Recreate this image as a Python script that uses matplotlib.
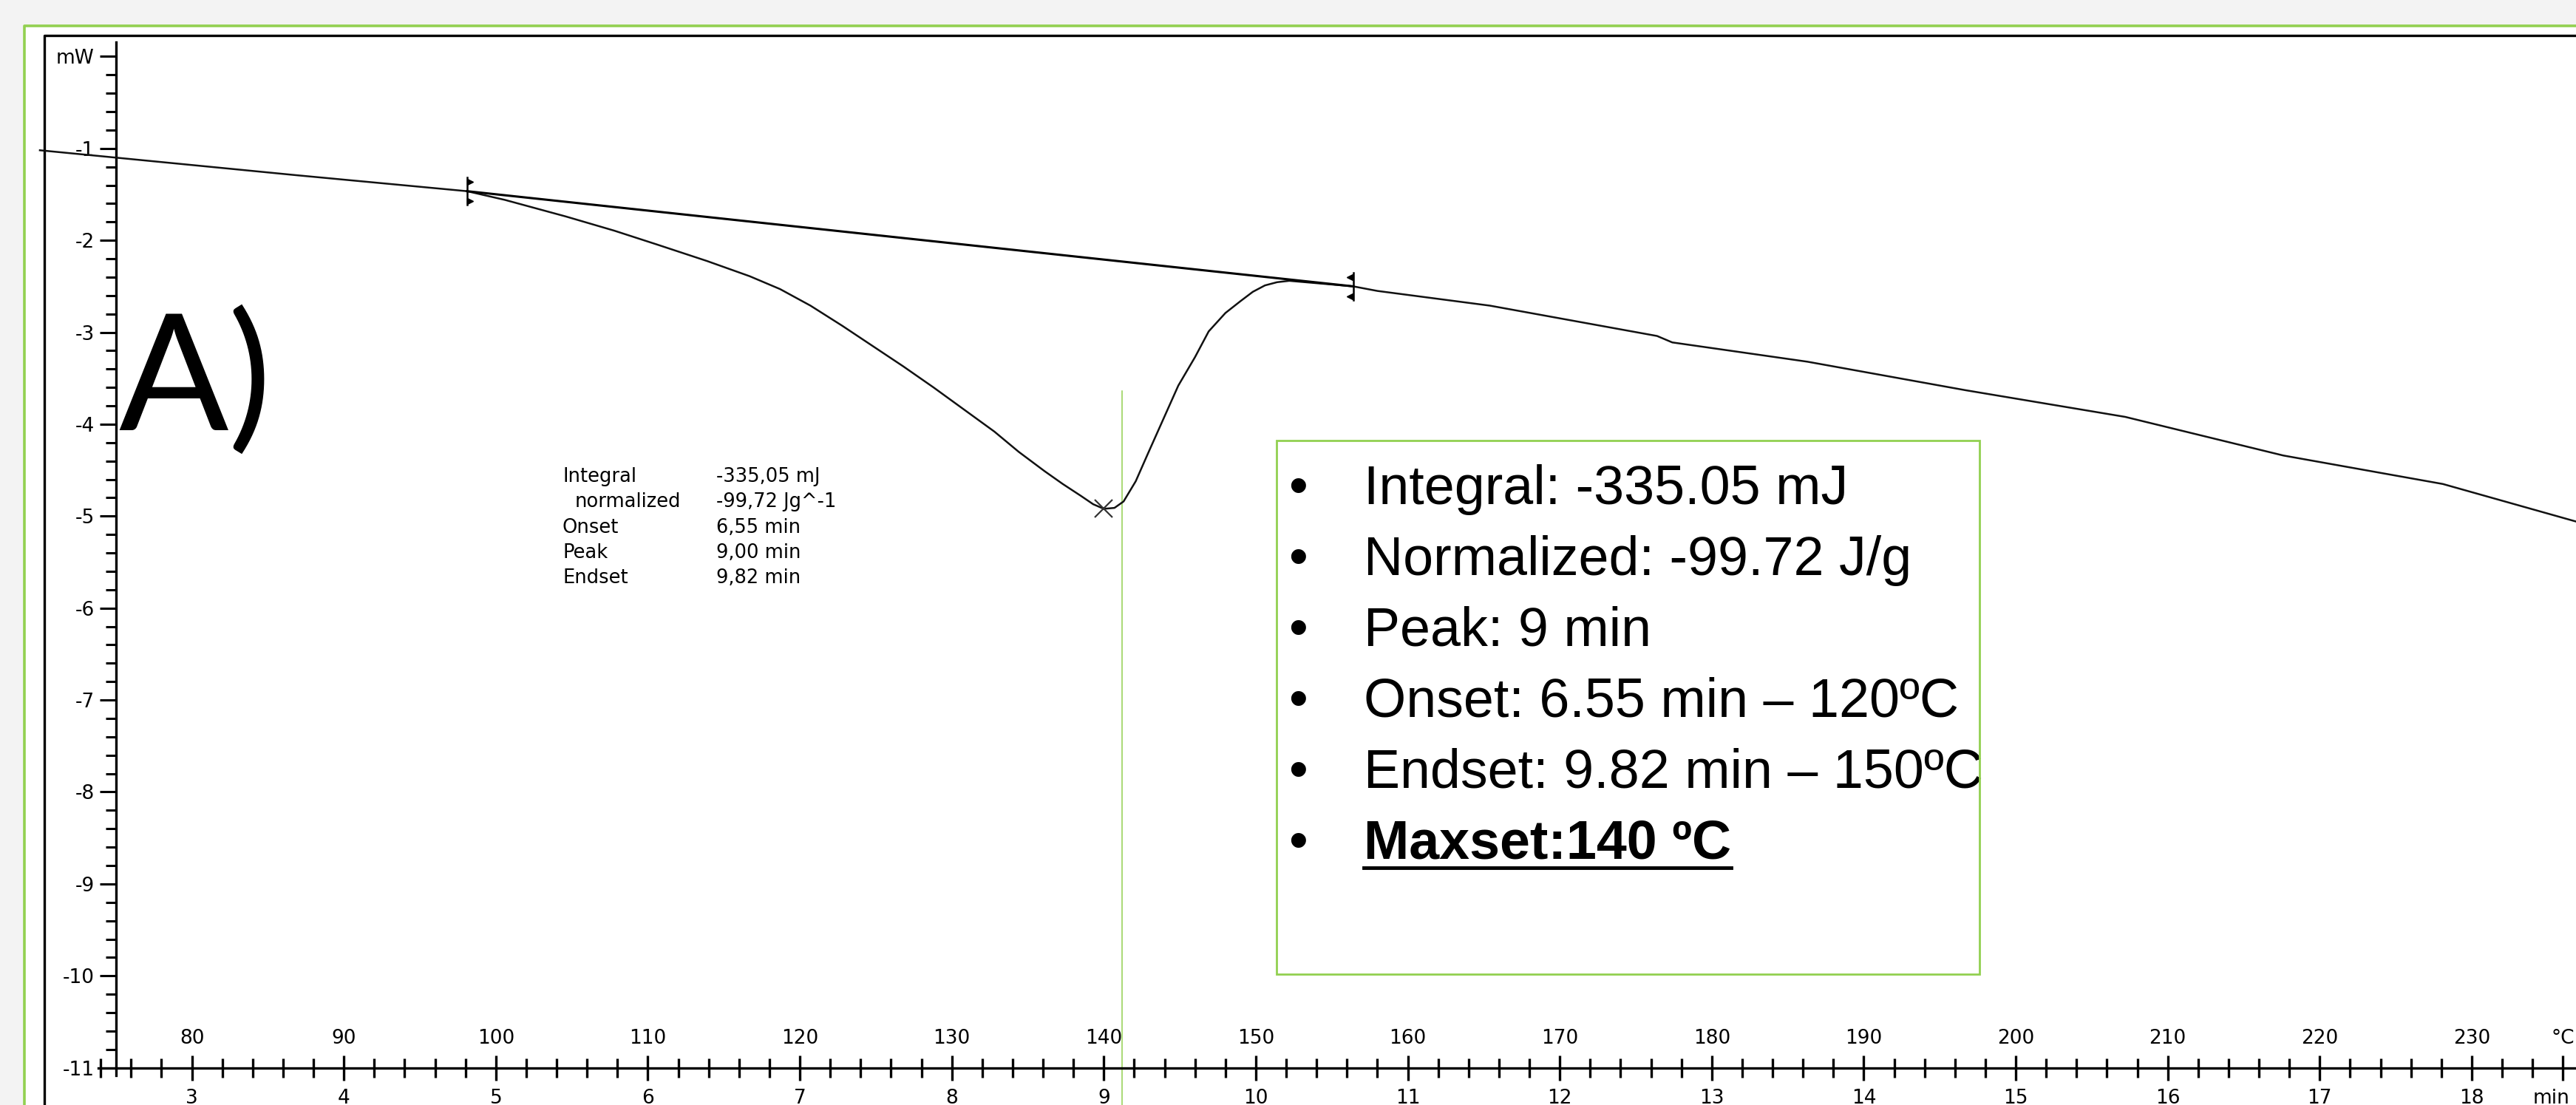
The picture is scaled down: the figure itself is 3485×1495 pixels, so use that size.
import matplotlib.pyplot as plt
from matplotlib.lines import Line2D
from matplotlib.patches import Rectangle
from matplotlib.ticker import MultipleLocator
from matplotlib.transforms import ScaledTranslation

W, H = 3485, 1495
GREEN = '#92d050'

# DSC curve: time (min) vs heat flow (mW)
time_min = [2.00, 2.50, 3.68, 4.81, 5.06, 5.46, 5.78, 6.06, 6.39, 6.67, 6.87,
            7.07, 7.28, 7.48, 7.68, 7.88, 8.08, 8.28, 8.44, 8.61, 8.73, 8.85,
            8.93, 9.00, 9.07, 9.13, 9.21, 9.29, 9.39, 9.49, 9.60, 9.69, 9.80,
            9.90, 9.98, 10.06, 10.14, 10.22, 10.64, 10.80, 11.54, 12.64, 12.74,
            13.63, 14.67, 15.72, 16.76, 17.81, 18.69]
heat_flow = [-1.02, -1.10, -1.29, -1.465, -1.56, -1.74, -1.895, -2.045, -2.225,
             -2.39, -2.53, -2.71, -2.93, -3.15, -3.37, -3.60, -3.84, -4.08,
             -4.30, -4.51, -4.65, -4.78, -4.87, -4.92, -4.91, -4.84, -4.62,
             -4.32, -3.95, -3.58, -3.27, -2.99, -2.79, -2.66, -2.56, -2.49,
             -2.455, -2.44, -2.50, -2.55, -2.71, -3.04, -3.11, -3.32, -3.63,
             -3.92, -4.34, -4.65, -5.06]

# integration limits (baseline end points) and peak
limit_left = (4.81, -1.465)
limit_right = (10.64, -2.50)
peak = (9.00, -4.92)
cursor_x = 9.12
cursor_top = -3.64

min_ticks = list(range(3, 19))
temp_ticks = list(range(80, 231, 10))
mw_ticks = list(range(0, -12, -1))
mw_labels = ['mW'] + [str(v) for v in mw_ticks[1:]]

table_names = ['Integral', 'normalized', 'Onset', 'Peak', 'Endset']
table_values = ['-335,05 mJ', '-99,72 Jg^-1', '6,55 min', '9,00 min', '9,82 min']

bullets = ['Integral: -335.05 mJ',
           'Normalized: -99.72 J/g',
           'Peak: 9 min',
           'Onset: 6.55 min \u2013 120\u00baC',
           'Endset: 9.82 min \u2013 150\u00baC',
           'Maxset:140 \u00baC']


def fx(px):
    return px / W


def fy(py):
    return 1 - py / H


fig = plt.figure(figsize=(W / 100, H / 100), dpi=100, facecolor='#f3f3f3')

# slide area and frames
fig.patches.append(Rectangle((fx(33), -0.01), 1, fy(35) + 0.01, transform=fig.transFigure,
                             facecolor='white', edgecolor='none', zorder=-5))
fig.add_artist(Line2D([fx(33), fx(33), 1.01], [-0.01, fy(35), fy(35)],
                      transform=fig.transFigure, color=GREEN, lw=2.6, zorder=-4))
fig.add_artist(Line2D([fx(60), fx(60), 1.01], [-0.01, fy(48), fy(48)],
                      transform=fig.transFigure, color='black', lw=2.4, zorder=-4))

ax = fig.add_axes([fx(132.5), fy(1454.6), 1 - fx(132.5), (1454.6 - 57.4) / H])
ax.set_facecolor('none')
ax.set_xlim(2.382, 18.686)
ax.set_ylim(-11.08, 0.153)
for s in ['top', 'right']:
    ax.spines[s].set_visible(False)
ax.spines['left'].set_position(('data', 2.5))
ax.spines['bottom'].set_position(('data', -11))
for s in ['left', 'bottom']:
    ax.spines[s].set_linewidth(2.4)

ax.set_xticks(min_ticks + [18.6], [str(m) for m in min_ticks] + ['min'])
ax.xaxis.set_minor_locator(MultipleLocator(0.2))
ax.tick_params(axis='x', which='major', direction='inout', length=23.8, width=2.4,
               pad=8.3, labelsize=19)
ax.tick_params(axis='x', which='minor', direction='inout', length=19.4, width=2.4)
ax.set_yticks(mw_ticks, mw_labels)
ax.yaxis.set_minor_locator(MultipleLocator(0.2))
ax.tick_params(axis='y', which='major', direction='out', length=15.8, width=2.2,
               pad=5, labelsize=19)
ax.tick_params(axis='y', which='minor', direction='out', length=10, width=2.2)

# the unit label "min" sits a little left of its tick, as in the original
unit_lbl = ax.xaxis.get_majorticklabels()[-1]
unit_lbl.set_transform(unit_lbl.get_transform()
                       + ScaledTranslation(-0.16, 0, fig.dpi_scale_trans))

# temperature scale above the time axis
sec = ax.secondary_xaxis(-11, functions=(lambda m: 10 * m + 50, lambda t: (t - 50) / 10),
                         transform=ax.transData)
sec.set_xticks(temp_ticks + [236], [str(t) for t in temp_ticks] + ['\u00b0C'])
sec.tick_params(axis='x', length=0, labeltop=True, labelbottom=False, pad=19, labelsize=19)
sec.spines['bottom'].set_visible(False)
sec.spines['top'].set_visible(False)

# curve, baseline and markers
ax.plot(time_min, heat_flow, color='#111111', lw=1.8, clip_on=False, zorder=3,
        solid_joinstyle='round')
ax.plot([limit_left[0], limit_right[0]], [limit_left[1], limit_right[1]],
        color='black', lw=2.2, zorder=3)
for (lx, ly), flag, dx in [(limit_left, '>', 0.022), (limit_right, '<', -0.022)]:
    ax.plot([lx, lx], [ly - 0.15, ly + 0.15], color='black', lw=1.8, zorder=4)
    ax.plot([lx + dx, lx + dx], [ly + 0.1, ly - 0.11], ls='none', marker=flag,
            ms=6, color='black', zorder=4)
ax.plot(*peak, marker='x', ms=17, mew=1.6, color='#333333', zorder=4)
ax.plot([cursor_x, cursor_x], [cursor_top, -11.6], color=GREEN, lw=1.1,
        clip_on=False, zorder=2)

# panel letter
fig.text(fx(160), fy(582), 'A)', family='Lato', fontsize=158, va='baseline', ha='left')

# small result table
for i, (name, val) in enumerate(zip(table_names, table_values)):
    yb = 652 + i * 34.3
    fig.text(fx(778 if i == 1 else 761), fy(yb), name, fontsize=18.5, va='baseline')
    fig.text(fx(969), fy(yb), val, fontsize=18.5, va='baseline')

# summary box
fig.patches.append(Rectangle((fx(1727), fy(1318)), fx(2678) - fx(1727), fy(596) - fy(1318),
                             transform=fig.transFigure, facecolor='none',
                             edgecolor=GREEN, lw=2.0, zorder=5))
texts = []
for i, line in enumerate(bullets):
    yb = 682 + i * 96
    bold = i == len(bullets) - 1
    fig.text(fx(1756), fy(yb), '\u2022', family='Liberation Sans', fontsize=53,
             ha='center', va='baseline')
    t = fig.text(fx(1845), fy(yb), line, family='Liberation Sans', fontsize=53,
                 fontweight='bold' if bold else 'normal', va='baseline')
    texts.append(t)

fig.canvas.draw()
bb = texts[-1].get_window_extent()
uy = (H - (682 + 5 * 96) - 12) / H
fig.add_artist(Line2D([bb.x0 / W, bb.x1 / W], [uy, uy], transform=fig.transFigure,
                      color='black', lw=3.5))

fig.savefig('out.png', dpi=100, facecolor=fig.get_facecolor())
